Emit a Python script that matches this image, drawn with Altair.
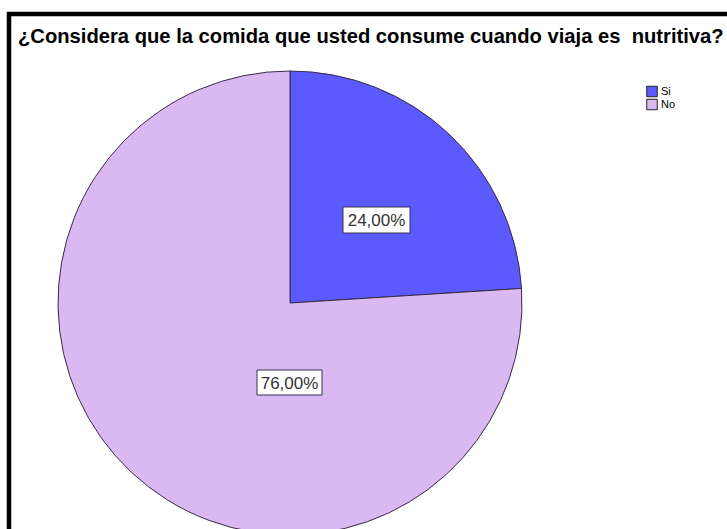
import altair as alt
import pandas as pd

title_text = "¿Considera que la comida que usted consume cuando viaja es \u00a0nutritiva?"
categories = ["Si", "No"]
percentages = [24.0, 76.0]
colors = ["#5a5aff", "#dab9f2"]

df = pd.DataFrame({"cat": categories, "pct": percentages, "order": list(range(len(categories)))})
df["label"] = [f"{v:.2f}".replace(".", ",") + "%" for v in percentages]

CX, CY, R = 281, 289, 232

base = alt.Chart(df)

pie = base.mark_arc(outerRadius=R, stroke="#3a2a48", strokeWidth=1).encode(
    theta=alt.Theta("pct:Q", stack=True),
    color=alt.Color(
        "cat:N",
        scale=alt.Scale(domain=categories, range=colors),
        sort=categories,
        legend=alt.Legend(
            title=None, orient="none", legendX=637, legendY=71,
            symbolType="square", symbolSize=110, symbolStrokeColor="#222",
            symbolStrokeWidth=1, symbolOpacity=1, labelFontSize=11,
            labelFont="Liberation Sans", labelColor="#000", rowPadding=0, labelOffset=3,
            padding=0, clipHeight=13,
        ),
    ),
    order=alt.Order("order:Q"),
    x=alt.value(CX),
    y=alt.value(CY),
)

def label_layer(cat, x1, x2, y1, y2):
    sub = base.transform_filter(alt.datum.cat == cat)
    box = sub.mark_rect(fill="white", stroke="#333355", strokeWidth=1).encode(
        x=alt.value(x1), x2=alt.value(x2), y=alt.value(y1), y2=alt.value(y2)
    )
    txt = sub.mark_text(font="Liberation Sans", fontSize=17, color="#333", baseline="middle", align="center").encode(
        text="label:N", x=alt.value((x1 + x2) / 2), y=alt.value((y1 + y2) / 2 + 1)
    )
    return box + txt

lab_si = label_layer("Si", 334, 401, 193, 219)
lab_no = label_layer("No", 248, 313, 356, 381)

title = alt.Chart(pd.DataFrame({"t": [title_text]})).mark_text(
    font="Liberation Sans", fontSize=20.2, fontWeight="bold", color="#000", align="left", baseline="middle"
).encode(text="t:N", x=alt.value(9), y=alt.value(23))

border_df = pd.DataFrame({"edge": ["frame"]})
left_edge = alt.Chart(border_df).mark_rule(color="black", strokeWidth=4.5).encode(
    x=alt.value(0), y=alt.value(-2), y2=alt.value(600)
)
top_edge = alt.Chart(border_df).mark_rule(color="black", strokeWidth=4.5).encode(
    x=alt.value(-2), x2=alt.value(800), y=alt.value(0)
)

chart = alt.layer(pie, lab_si, lab_no, title, left_edge, top_edge).properties(
    width=718, height=515,
    autosize=alt.AutoSizeParams(type="none"),
    padding={"left": 9, "top": 14, "right": 0, "bottom": 0},
    background="white",
).configure_view(strokeWidth=0)

chart.save("out.html", embed_options={"renderer": "svg", "actions": False})
